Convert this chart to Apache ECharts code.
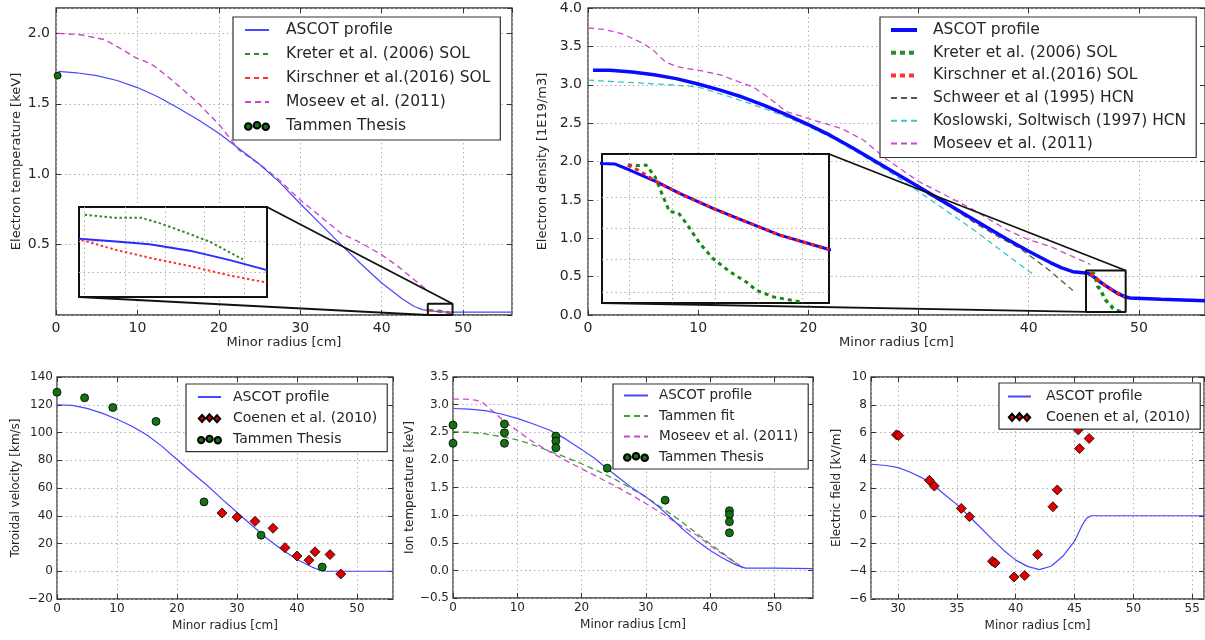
<!DOCTYPE html>
<html><head><meta charset="utf-8">
<script src="https://cdn.jsdelivr.net/npm/echarts@6/dist/echarts.min.js"></script>
<style>html,body{margin:0;padding:0;background:#fff}#c{width:1205px;height:640px}</style>
</head><body><div id="c"></div>
<script>
// ================= DATA =================
// Top-left: electron temperature [keV] vs minor radius [cm]
const teAscot = [[0.3,1.73],[2.5,1.72],[5,1.70],[7.5,1.665],[10,1.615],[12.5,1.55],[15,1.47],[17.5,1.385],[20,1.29],[22.5,1.18],[25,1.07],[27.5,0.94],[30,0.79],[32.5,0.645],[35,0.50],[37.5,0.36],[40,0.227],[42.5,0.115],[44,0.06],[45,0.038],[46,0.03],[47,0.024],[48,0.021],[50,0.02],[56,0.02]];
const teMoseev = [[0.3,2.0],[3,1.99],[6,1.955],[8,1.89],[10,1.82],[11,1.80],[12,1.77],[14,1.68],[17,1.53],[20,1.355],[22.5,1.17],[25,1.07],[27,0.98],[30,0.817],[33,0.675],[35,0.58],[37.5,0.51],[40,0.427],[42,0.345],[44,0.25],[45.5,0.18]];
const teKreter = [[45.75,0.038],[46.5,0.036],[47.3,0.03],[48.3,0.022]];
const teKirschner = [[45.7,0.03],[46.8,0.022],[47.5,0.017],[48.7,0.01]];
const teTammen = [[0.2,1.70]];
const teInsetAscot = [[45.66,0.0517],[46.26,0.0493],[46.80,0.0469],[47.45,0.0412],[48.10,0.0328],[48.70,0.0239]];
const teInsetKreter = [[45.75,0.0731],[46.26,0.0704],[46.67,0.0704],[46.96,0.0657],[47.34,0.0582],[47.77,0.0493],[48.31,0.0334]];
const teInsetKirschner = [[45.70,0.0507],[46.26,0.0418],[46.80,0.0349],[47.45,0.0275],[48.10,0.0191],[48.70,0.0128]];
const teBoxX = [45.66, 48.7];
const teBoxY = [0, 0.08];
const teInsetGridX = [45.75, 46.4, 47.05, 47.68, 48.33];
const teInsetGridY = [0.0224, 0.0493];

// Top-right: electron density [1E19/m3]
const neAscot = [[0.45,3.19],[2,3.19],[4,3.165],[6,3.13],[8,3.08],[10,3.01],[12,2.93],[14,2.84],[16,2.73],[18,2.61],[20,2.48],[22,2.34],[24,2.18],[26,2.01],[28,1.84],[30,1.67],[32,1.50],[34,1.33],[36,1.16],[38,0.99],[40,0.83],[42,0.68],[43,0.615],[44,0.565],[45.2,0.546],[45.4,0.544],[45.64,0.522],[46.06,0.48],[46.43,0.437],[46.96,0.383],[47.49,0.334],[48.02,0.286],[48.8,0.234],[49.2,0.222],[52,0.205],[56,0.185]];
const neKreter = [[45.61,0.54],[45.77,0.538],[45.9,0.54],[46.04,0.498],[46.17,0.425],[46.27,0.371],[46.41,0.367],[46.54,0.328],[46.75,0.256],[46.96,0.201],[47.23,0.153],[47.49,0.116],[47.65,0.086],[47.92,0.062],[48.34,0.044]];
const neKirschner = [[45.61,0.54],[45.77,0.522],[45.9,0.504],[46.04,0.483],[46.43,0.437],[46.96,0.383],[47.49,0.334],[48.02,0.286],[48.8,0.234]];
const neSchweer = [[30,1.65],[33,1.40],[35,1.21],[37.5,1.0],[39.2,0.87],[41.8,0.59],[44,0.32]];
const neKoslowski = [[0,3.06],[2.5,3.04],[5,3.02],[7.5,3.0],[10,2.97],[12.5,2.86],[15,2.74],[17.5,2.61],[20,2.46],[22.5,2.28],[25,2.07],[27.5,1.85],[30,1.61],[32.5,1.36],[35,1.11],[37.5,0.84],[40.3,0.54]];
const neMoseev = [[0,3.74],[1.5,3.72],[3,3.67],[5,3.54],[6,3.44],[7,3.30],[8,3.24],[9,3.21],[10,3.19],[12,3.13],[14,3.02],[15,2.97],[16.5,2.82],[18,2.65],[20,2.56],[23,2.43],[25,2.28],[27,2.04],[30,1.74],[33,1.52],[35,1.37],[38,1.11],[40,0.98],[42,0.89],[44,0.76],[45.6,0.66]];
const neBoxX = [45.2, 48.8];
const neBoxY = [0.04, 0.58];
const neInsetGridX = [45.63, 46.32, 46.99, 47.68, 48.37];
const neInsetGridY = [0.08, 0.197, 0.31, 0.425];

// Bottom-left: toroidal velocity [km/s]
const vtAscot = [[0,120],[2.5,119.5],[5,117.4],[7.5,114],[10,109.5],[12.5,104.5],[15,98.2],[17.5,90],[20,80.5],[22.5,71],[25,62],[27.5,52],[30,42.5],[32.5,33],[35,23.6],[37.5,15.5],[40,8.5],[42.5,3],[44,0.5],[45,0],[56,0]];
const vtCoenen = [[27.5,42],[30,39],[33,36],[36,31],[38,17],[40,11],[42,8],[43,14],[45.5,12],[47.3,-2]];
const vtTammen = [[0,129],[4.6,125],[9.3,118],[16.5,108],[24.5,50],[34,26],[44.2,3]];

// Bottom-middle: ion temperature [keV]
const tiAscot = [[0,2.93],[2.5,2.92],[5,2.89],[7.5,2.83],[10,2.75],[12.5,2.65],[15,2.54],[17.5,2.38],[20,2.19],[22,2.03],[24,1.84],[26,1.66],[28,1.48],[30,1.33],[32,1.15],[34,0.94],[36,0.72],[38,0.53],[40,0.36],[42,0.22],[44,0.10],[45.5,0.04],[50,0.04],[56,0.03]];
const tiTammenFit = [[0,2.51],[2.5,2.5],[5,2.47],[8,2.41],[10,2.36],[12,2.29],[15,2.16],[17.5,2.05],[20,1.93],[22.5,1.80],[25,1.66],[27.5,1.50],[30,1.33],[32.5,1.13],[35,0.93],[37.5,0.71],[40,0.48],[42,0.31],[43.5,0.18],[45.5,0.0]];
const tiMoseev = [[0,3.1],[2,3.1],[3.5,3.08],[4.5,3.05],[6,2.9],[8,2.69],[10,2.53],[12,2.36],[15,2.15],[18,1.96],[20,1.84],[22.5,1.69],[25,1.54],[27.5,1.38],[30,1.21],[32.5,1.03],[35,0.84],[38,0.63],[40,0.45],[42,0.29],[43.5,0.17],[45,0.06]];
const tiTammen = [[0,2.63],[0,2.30],[8,2.65],[8,2.49],[8,2.30],[16,2.43],[16,2.34],[16,2.22],[24,1.85],[33,1.27],[43,1.08],[43,1.01],[43,0.88],[43,0.68]];

// Bottom-right: electric field [kV/m]
const erAscot = [[27.74,3.71],[29,3.62],[30,3.47],[31,3.15],[32,2.75],[33,2.2],[34,1.5],[35,0.8],[36,0.0],[37,-0.85],[38,-1.7],[39,-2.5],[40,-3.2],[41,-3.65],[42,-3.88],[43,-3.64],[44,-2.92],[45,-1.83],[45.6,-0.75],[46,-0.2],[46.4,0],[56,0]];
const erCoenen = [[29.86,5.83],[30.06,5.78],[32.66,2.55],[33.08,2.14],[35.37,0.53],[36.07,-0.07],[38.02,-3.28],[38.25,-3.40],[39.86,-4.41],[40.76,-4.31],[41.86,-2.80],[43.16,0.65],[43.53,1.86],[45.31,6.19],[45.42,4.84],[46.24,5.57]];

// ================= STYLE / BUILD =================
const FONT = 'DejaVu Sans';
const TXT = '#262626';
const GRIDC = '#b0b0b0';
const minus = s => String(s).replace('-', '\u2212');

function axis(gi, o) {
  const ax = {
    type: 'value', gridIndex: gi, min: o.min, max: o.max,
    axisLine: {show: false, onZero: false},
    axisTick: {show: !o.inset, inside: true, length: 5, lineStyle: {color: '#333', width: 1}},
    splitLine: {show: true, lineStyle: {color: GRIDC, width: 1, type: [1.5, 3]}},
    axisLabel: {show: !o.inset, margin: o.margin || 6, fontSize: o.fs || 14, fontFamily: FONT, color: TXT,
      showMinLabel: o.showMin !== false, showMaxLabel: o.showMax !== false,
      formatter: o.fmt || (v => minus(v))},
    z: o.inset ? 4 : 0
  };
  if (o.interval != null) ax.interval = o.interval;
  if (o.splitNumber != null) ax.splitNumber = o.splitNumber;
  if (o.custom) { ax.axisTick.customValues = o.custom; ax.axisLabel.customValues = o.custom; }
  if (o.name) {
    ax.name = o.name; ax.nameLocation = 'middle'; ax.nameGap = o.nameGap;
    ax.nameTextStyle = {fontFamily: FONT, fontSize: o.nfs || 13, color: TXT};
  }
  return ax;
}
// mirror axis: ticks only on the top / right spine
function mirror(gi, pos, o) {
  const ax = {type: 'value', gridIndex: gi, position: pos, min: o.min, max: o.max,
    axisLine: {show: false, onZero: false}, axisLabel: {show: false}, splitLine: {show: false},
    axisTick: {show: true, inside: true, length: 5, lineStyle: {color: '#333', width: 1}}};
  if (o.interval != null) ax.interval = o.interval;
  if (o.splitNumber != null) ax.splitNumber = o.splitNumber;
  return ax;
}
function ln(name, gi, data, color, width, dash, z) {
  return {type: 'line', name: name, xAxisIndex: gi, yAxisIndex: gi, data: data, color: color,
    symbol: 'none', showSymbol: false, lineStyle: {color: color, width: width, type: dash || 'solid'},
    itemStyle: {color: color}, z: z || 2, silent: true, emphasis: {disabled: true}};
}
function sc(name, gi, data, color, symbol, size) {
  return {type: 'scatter', name: name, xAxisIndex: gi, yAxisIndex: gi, data: data, symbol: symbol, symbolSize: size,
    itemStyle: {color: color, borderColor: '#000', borderWidth: 0.8, opacity: 1}, z: 3, silent: true, emphasis: {disabled: true}};
}
const DOTS = 'path://M0,4.5a3.3,3.3 0 1,0 6.6,0a3.3,3.3 0 1,0 -6.6,0Z M8.7,3.3a3.3,3.3 0 1,0 6.6,0a3.3,3.3 0 1,0 -6.6,0Z M17.4,4.7a3.3,3.3 0 1,0 6.6,0a3.3,3.3 0 1,0 -6.6,0Z';
const DIAMS = 'path://M3.6,0.8L7.2,4.8L3.6,8.8L0,4.8Z M12,0L15.6,4L12,8L8.4,4Z M20.4,1L24,5L20.4,9L16.8,5Z';
// legend entry for a line series: line only, the centre marker hidden
const L = (name, lineStyle) => {
  const it = {name: name, itemStyle: {opacity: 0}};
  if (lineStyle) it.lineStyle = lineStyle;
  return it;
};
const S = (name, icon) => ({name: name, icon: icon, itemStyle: {opacity: 1}});
function lg(left, top, pad, fs, gap, iw, tpad, items) {
  return {left: left, top: top, orient: 'vertical', padding: pad, itemGap: gap, itemWidth: iw, itemHeight: 8,
    backgroundColor: '#fff', borderColor: '#333', borderWidth: 1.2, borderRadius: 0, selectedMode: false, align: 'left',
    textStyle: {fontFamily: FONT, fontSize: fs, color: TXT, padding: [0, 0, 0, tpad]}, data: items, z: 6};
}
function grid(l, t, w, h, inset) {
  return {left: l, top: t, width: w, height: h, show: true, containLabel: false,
    borderColor: inset ? '#111' : '#3a3a3a', borderWidth: inset ? 2 : 1.3,
    backgroundColor: inset ? '#fff' : 'transparent', z: inset ? 3 : 0};
}
const boxPath = (bx, by) => [[bx[0], by[0]], [bx[1], by[0]], [bx[1], by[1]], [bx[0], by[1]], [bx[0], by[0]]];

const BLUE = '#4747ff', GREEN = '#2a8c2a', RED = '#ff3333', MAG = '#c94ac9', CYAN = '#3cc6c6';

const XR = {min: 0, max: 56, interval: 10};
const XR_E = {min: 27.7, max: 56, splitNumber: 5};
const YR = [{min: 0, max: 2.18, interval: 0.5}, {min: 0, max: 4, interval: 0.5}, {min: -20, max: 140, interval: 20}, {min: -0.5, max: 3.5, interval: 0.5}, {min: -6, max: 10, interval: 2}];

const option = {
  animation: false,
  textStyle: {fontFamily: FONT},
  grid: [
    grid(56, 8, 456, 307), grid(588, 8, 618, 307),
    grid(57, 377, 336, 222), grid(453, 377, 360, 221), grid(871, 377, 333, 222),
    grid(79, 207, 188, 90, true), grid(602, 154, 227, 149, true)
  ],
  xAxis: [
    axis(0, Object.assign({showMax: false, name: 'Minor radius [cm]', nameGap: 20, margin: 6}, XR)),
    axis(1, Object.assign({showMax: false, name: 'Minor radius [cm]', nameGap: 20, margin: 6}, XR)),
    axis(2, Object.assign({showMax: false, fs: 12, margin: 4, name: 'Minor radius [cm]', nameGap: 21, nfs: 12}, XR)),
    axis(3, Object.assign({showMax: false, fs: 12, margin: 4, name: 'Minor radius [cm]', nameGap: 21, nfs: 12}, XR)),
    axis(4, Object.assign({showMin: false, showMax: false, fs: 12, margin: 4, name: 'Minor radius [cm]', nameGap: 21, nfs: 12}, XR_E)),
    axis(5, {min: teBoxX[0], max: teBoxX[1], inset: true, custom: teInsetGridX}),
    axis(6, {min: neBoxX[0], max: neBoxX[1], inset: true, custom: neInsetGridX}),
    mirror(0, 'top', XR), mirror(1, 'top', XR), mirror(2, 'top', XR), mirror(3, 'top', XR), mirror(4, 'top', XR_E)
  ],
  yAxis: [
    axis(0, Object.assign({showMin: false, showMax: false, fmt: v => v.toFixed(1), name: 'Electron temperature [keV]', nameGap: 33}, YR[0])),
    axis(1, Object.assign({fmt: v => v.toFixed(1), name: 'Electron density [1E19/m3]', nameGap: 31}, YR[1])),
    axis(2, Object.assign({fs: 12, margin: 4, name: 'Toroidal velocity [km/s]', nameGap: 35, nfs: 12}, YR[2])),
    axis(3, Object.assign({fs: 12, margin: 4, fmt: v => minus(v.toFixed(1)), name: 'Ion temperature [keV]', nameGap: 36, nfs: 12}, YR[3])),
    axis(4, Object.assign({fs: 12, margin: 4, name: 'Electric field [kV/m]', nameGap: 28, nfs: 12}, YR[4])),
    axis(5, {min: teBoxY[0], max: teBoxY[1], inset: true, custom: teInsetGridY}),
    axis(6, {min: neBoxY[0], max: neBoxY[1], inset: true, custom: neInsetGridY}),
    mirror(0, 'right', YR[0]), mirror(1, 'right', YR[1]), mirror(2, 'right', YR[2]), mirror(3, 'right', YR[3]), mirror(4, 'right', YR[4])
  ],
  legend: [
    lg(233, 17, [5, 10, 6, 11], 15.5, 8, 24, 12, [L('ASCOT profile'), L('Kreter et al. (2006) SOL'), L('Kirschner et al.(2016) SOL'), L('Moseev et al. (2011)'), S('Tammen Thesis', DOTS)]),
    lg(880, 17, [5, 10, 6, 9], 15.5, 6.7, 26, 11, [L('ASCOT profile', {width: 4, color: '#0a0aff'}), L('Kreter et al. (2006) SOL', {width: 4}), L('Kirschner et al.(2016) SOL', {width: 4}), L('Schweer et al (1995) HCN'), L('Koslowski, Soltwisch (1997) HCN'), L('Moseev et al. (2011)')]),
    lg(186, 384, [6, 10, 5, 11], 14, 7.3, 23, 7, [L('ASCOT profile'), S('Coenen et al. (2010)', DIAMS), S('Tammen Thesis', DOTS)]),
    lg(613, 384, [4.5, 10, 5, 10], 13.5, 6.5, 24, 6, [L('ASCOT profile'), L('Tammen fit'), L('Moseev et al. (2011)'), S('Tammen Thesis', DOTS)]),
    lg(999, 383, [6.5, 10, 5, 8], 14, 6.6, 23, 10, [L('ASCOT profile'), S('Coenen et al, (2010)', DIAMS)])
  ],
  series: [
    // top-left main
    ln('Moseev et al. (2011)', 0, teMoseev, MAG, 1.4, [6, 4]),
    ln('ASCOT profile', 0, teAscot, BLUE, 1.2),
    ln('Kreter et al. (2006) SOL', 0, teKreter, GREEN, 1.4, [5, 4]),
    ln('Kirschner et al.(2016) SOL', 0, teKirschner, RED, 1.4, [5, 4]),
    sc('Tammen Thesis', 0, teTammen, '#137313', 'circle', 7),
    // top-left zoom box + inset
    {type: 'line', name: 'teBox', xAxisIndex: 0, yAxisIndex: 0, data: boxPath(teBoxX, teBoxY), symbol: 'none', clip: false, lineStyle: {color: '#111', width: 2}, z: 4, silent: true},
    ln('teInsetAscot', 5, teInsetAscot, '#2a2aff', 2, 'solid', 5),
    ln('teInsetKreter', 5, teInsetKreter, GREEN, 2, [2.5, 2.5], 5),
    ln('teInsetKirschner', 5, teInsetKirschner, RED, 2, [2.5, 2.5], 5),
    // top-right main
    ln('Koslowski, Soltwisch (1997) HCN', 1, neKoslowski, CYAN, 1.3, [6, 4]),
    ln('Schweer et al (1995) HCN', 1, neSchweer, '#555555', 1.3, [6, 4]),
    ln('Moseev et al. (2011)', 1, neMoseev, MAG, 1.3, [6, 4]),
    ln('ASCOT profile', 1, neAscot, '#0a0aff', 3.5),
    ln('Kreter et al. (2006) SOL', 1, neKreter, '#138a13', 3.5, [4, 4]),
    ln('Kirschner et al.(2016) SOL', 1, neKirschner, '#ff1a1a', 3.5, [4, 4]),
    {type: 'line', name: 'neBox', xAxisIndex: 1, yAxisIndex: 1, data: boxPath(neBoxX, neBoxY), symbol: 'none', clip: false, lineStyle: {color: '#111', width: 2}, z: 4, silent: true},
    ln('neInsetAscot', 6, neAscot, '#0a0aff', 3, 'solid', 5),
    ln('neInsetKreter', 6, neKreter, '#138a13', 3, [4, 4], 5),
    ln('neInsetKirschner', 6, neKirschner, '#ff1a1a', 3, [4, 4], 5),
    // bottom-left
    ln('ASCOT profile', 2, vtAscot, BLUE, 1.2),
    sc('Coenen et al. (2010)', 2, vtCoenen, '#e00000', 'diamond', 10),
    sc('Tammen Thesis', 2, vtTammen, '#137313', 'circle', 8),
    // bottom-middle
    ln('Tammen fit', 3, tiTammenFit, '#3a9e3a', 1.3, [6, 4]),
    ln('Moseev et al. (2011)', 3, tiMoseev, MAG, 1.3, [6, 4]),
    ln('ASCOT profile', 3, tiAscot, BLUE, 1.2),
    sc('Tammen Thesis', 3, tiTammen, '#137313', 'circle', 8),
    // bottom-right
    ln('ASCOT profile', 4, erAscot, BLUE, 1.2),
    sc('Coenen et al, (2010)', 4, erCoenen, '#e00000', 'diamond', 10)
  ]
};

const chart = echarts.init(document.getElementById('c'));
chart.setOption(option);

// connector lines between zoom boxes and insets, positioned through the axes
const P = (g, v) => chart.convertToPixel({gridIndex: g}, v);
function connectors(mainG, insetG, bx, by) {
  const boxTR = P(mainG, [bx[1], by[1]]), boxBL = P(mainG, [bx[0], by[0]]);
  const inTR = P(insetG, [bx[1], by[1]]), inBL = P(insetG, [bx[0], by[0]]);
  return [
    {type: 'line', shape: {x1: inTR[0], y1: inTR[1], x2: boxTR[0], y2: boxTR[1]}, style: {stroke: '#111', lineWidth: 1.8}, z: 10, silent: true},
    {type: 'line', shape: {x1: inBL[0], y1: inBL[1], x2: boxBL[0], y2: boxBL[1]}, style: {stroke: '#111', lineWidth: 1.8}, z: 10, silent: true}
  ];
}
chart.setOption({graphic: connectors(0, 5, teBoxX, teBoxY).concat(connectors(1, 6, neBoxX, neBoxY))});
</script>
</body></html>
